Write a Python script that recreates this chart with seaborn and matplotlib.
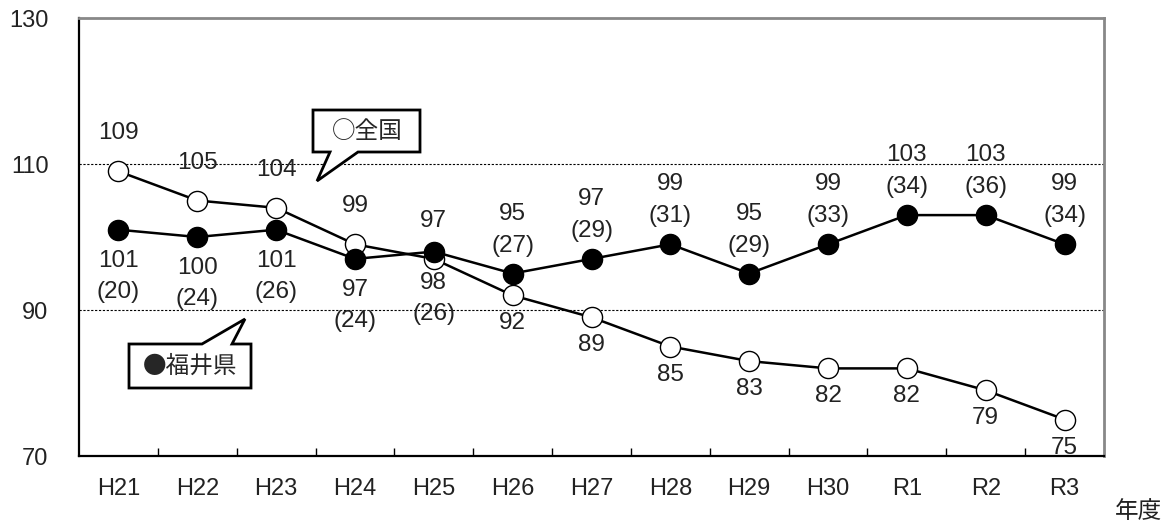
import matplotlib
matplotlib.use("Agg")
import matplotlib.pyplot as plt
import seaborn as sns
import pandas as pd
import numpy as np
from matplotlib.patches import Polygon
from matplotlib.ticker import FixedLocator

# ---- data ----
years = ["H21", "H22", "H23", "H24", "H25", "H26", "H27", "H28", "H29", "H30", "R1", "R2", "R3"]
national = [109, 105, 104, 99, 97, 92, 89, 85, 83, 82, 82, 79, 75]
fukui = [101, 100, 101, 97, 98, 95, 97, 99, 95, 99, 103, 103, 99]
fukui_paren = [20, 24, 26, 24, 26, 27, 29, 31, 29, 33, 34, 36, 34]
y_ticks = [70, 90, 110, 130]

sns.set_theme(style="white")
FAM = ["Liberation Sans", "Noto Sans CJK JP", "DejaVu Sans"]
plt.rcParams["font.family"] = FAM

fig = plt.figure(figsize=(11.68, 5.24), dpi=100)
W, H = 1168, 524
L, R, T, B = 79, 1104, 18, 456
ax = fig.add_axes([L / W, 1 - B / H, (R - L) / W, (B - T) / H])

df = pd.DataFrame({"year": pd.Categorical(years, categories=years, ordered=True),
                   "national": national, "fukui": fukui})
df["x"] = df["year"].cat.codes

sns.lineplot(data=df, x="x", y="national", ax=ax, color="black", lw=1.8,
             marker="o", markersize=14.5, markerfacecolor="white",
             markeredgecolor="black", markeredgewidth=1.0, zorder=3)
sns.lineplot(data=df, x="x", y="fukui", ax=ax, color="black", lw=1.8,
             marker="o", markersize=14.5, markerfacecolor="black",
             markeredgecolor="black", markeredgewidth=1.0, zorder=4)

ax.set_xlim(-0.5, len(years) - 0.5)
ax.set_ylim(70, 130)
ax.set_xticks(range(len(years)))
ax.set_xticklabels(years)
ax.xaxis.set_minor_locator(FixedLocator(np.arange(0.5, len(years) - 0.5, 1)))
ax.set_yticks(y_ticks)
ax.set_xlabel("")
ax.set_ylabel("")
ax.tick_params(axis="x", which="major", length=0, pad=16, labelsize=17, labelcolor="#222222")
ax.tick_params(axis="x", which="minor", length=6, width=1.0, direction="in", color="black", bottom=True)
ax.tick_params(axis="y", length=0, pad=22, labelsize=17, labelcolor="#222222")

ax.grid(False)
for yv in [90, 110]:
    ax.axhline(yv, color="black", lw=0.8, ls=(0, (2, 1.5)), zorder=1)

for side in ["left", "bottom"]:
    ax.spines[side].set_color("black")
    ax.spines[side].set_linewidth(1.6)
for side in ["top", "right"]:
    ax.spines[side].set_color("#888888")
    ax.spines[side].set_linewidth(2.0)
    ax.spines[side].set_visible(True)

# ---- value labels ----
fs = 17.5
tc = "#222222"
for i in range(len(years)):
    nat_above = i < 5
    if nat_above:
        ax.annotate(str(national[i]), (i, national[i]), xytext=(0, 38), textcoords="offset pixels",
                    ha="center", va="center", fontsize=fs, color=tc)
        ax.annotate(str(fukui[i]), (i, fukui[i]), xytext=(0, -31), textcoords="offset pixels",
                    ha="center", va="center", fontsize=fs, color=tc)
        ax.annotate(f"({fukui_paren[i]})", (i, fukui[i]), xytext=(0, -62), textcoords="offset pixels",
                    ha="center", va="center", fontsize=fs, color=tc)
    else:
        ax.annotate(str(national[i]), (i, national[i]), xytext=(0, -28), textcoords="offset pixels",
                    ha="center", va="center", fontsize=fs, color=tc)
        ax.annotate(str(fukui[i]), (i, fukui[i]), xytext=(0, 60), textcoords="offset pixels",
                    ha="center", va="center", fontsize=fs, color=tc)
        ax.annotate(f"({fukui_paren[i]})", (i, fukui[i]), xytext=(0, 28), textcoords="offset pixels",
                    ha="center", va="center", fontsize=fs, color=tc)

# ---- callouts (figure pixel coordinates) ----
def px2fig(pts):
    return [(x / W, 1 - y / H) for x, y in pts]

nat_box = [(313, 110), (420, 110), (420, 152), (358, 152), (317, 181), (330, 152), (313, 152)]
fk_box = [(129, 344), (202, 344), (245, 319), (232, 344), (251, 344), (251, 388), (129, 388)]
for pts in (nat_box, fk_box):
    fig.patches.append(Polygon(px2fig(pts), closed=True, transform=fig.transFigure,
                               facecolor="white", edgecolor="black", lw=2.0, zorder=10))

fig.text(367 / W, 1 - 131 / H, "○全国", ha="center", va="center", fontsize=17,
         family=["Noto Sans CJK JP", "DejaVu Sans"], zorder=11)
fig.text(190 / W, 1 - 366 / H, "●福井県", ha="center", va="center", fontsize=17,
         family=["Noto Sans CJK JP", "DejaVu Sans"], zorder=11)

fig.text(1138 / W, 1 - 511 / H, "年度", ha="center", va="center", fontsize=17,
         family=["Noto Sans CJK JP", "DejaVu Sans"], color="#222222")

fig.savefig("out.png", dpi=100)
